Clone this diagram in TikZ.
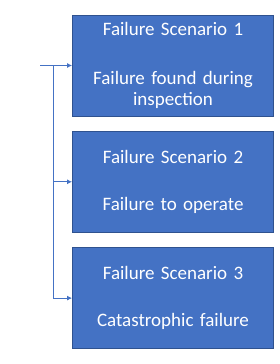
\documentclass[tikz,border=0pt]{standalone}
\usepackage{fontspec}
\setmainfont{Carlito}
\usepackage{tikz}
\usetikzlibrary{positioning,arrows.meta}
\definecolor{fsblue}{HTML}{4472C4}
\definecolor{fsedge}{HTML}{2F528F}
\tikzset{
  fs box/.style={
    rectangle,
    minimum height=101pt,
    minimum width=201pt,
    text width=195pt,
    align=center,
    draw=fsedge,
    line width=0.8pt,
    fill=fsblue,
    text=white,
    font=\fontsize{19}{21}\selectfont,
    inner sep=0pt,
  },
  fs arrow/.style={-{Latex[length=5pt,width=5pt]}, line width=1pt, draw=fsblue},
  fs line/.style={line width=1pt, draw=fsblue},
}

\begin{document}
\begin{tikzpicture}[
  node distance=14.5pt,
]
  \useasboundingbox (0,0) rectangle (280pt,-364pt);
  \node[fs box] (fs1) at (173pt,-65.5pt) {Failure Scenario 1\\[28pt]Failure found during\\inspection};
  \node[fs box,below=of fs1] (fs2) {Failure Scenario 2\\[26pt]Failure to operate};
  \node[fs box,below=of fs2] (fs3) {Failure Scenario 3\\[26pt]Catastrophic failure};
  \coordinate (start) at ([xshift=-32pt]fs1.west);
  \coordinate (bus) at ([xshift=-19pt]fs1.west);
  \draw[fs arrow] (start) -- (fs1.west);
  \draw[fs arrow] (bus) |- (fs2.west);
  \draw[fs arrow] (bus) |- (fs3.west);
\end{tikzpicture}
\end{document}
